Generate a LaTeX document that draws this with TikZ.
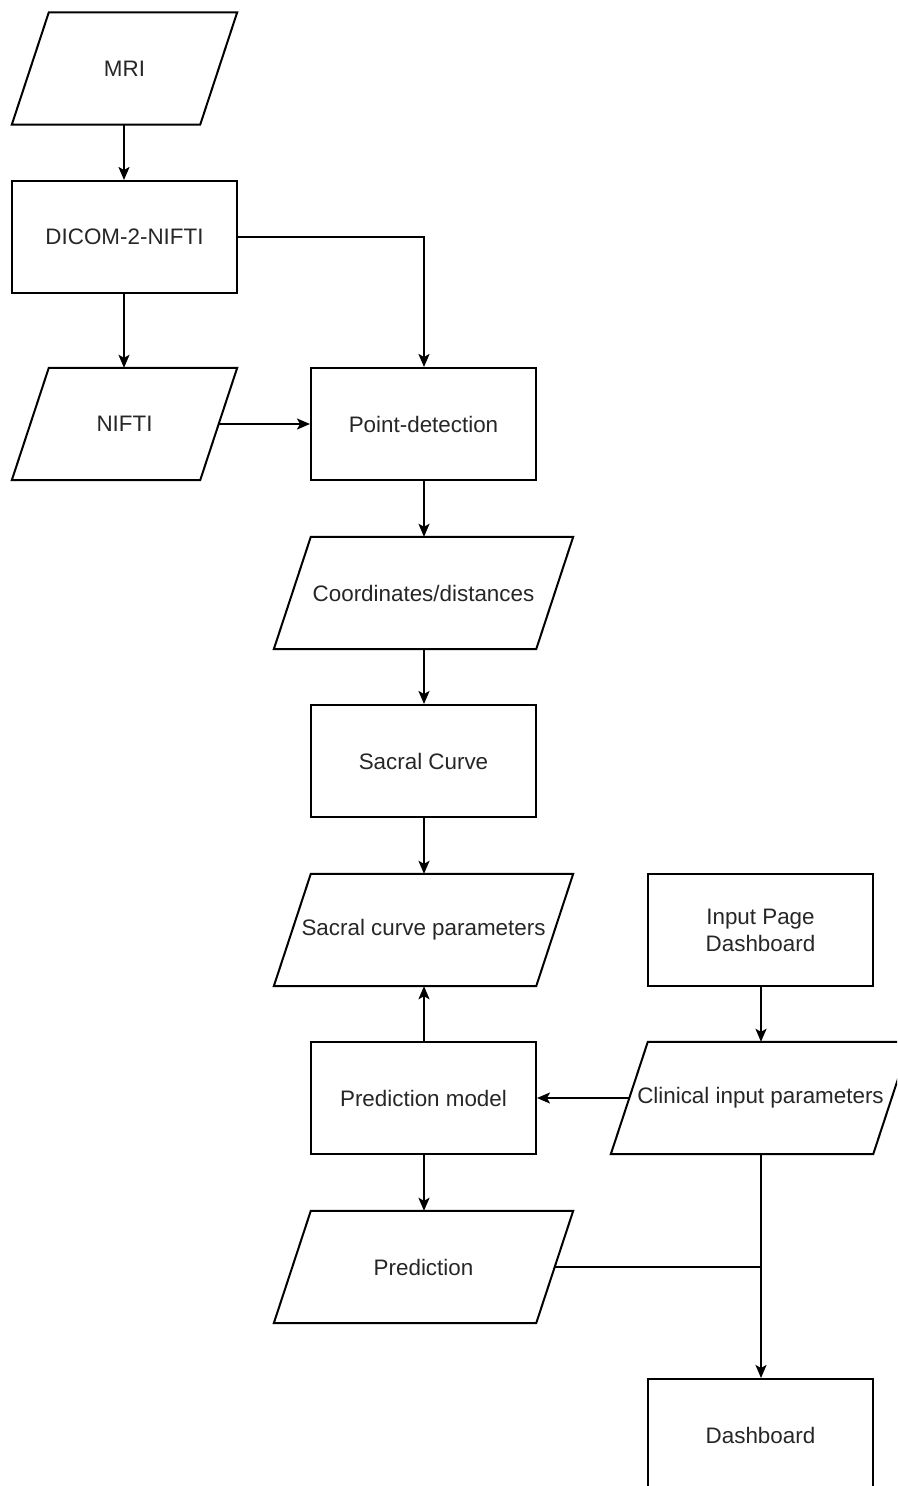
\documentclass[tikz,border=0pt]{standalone}
\usepackage{fontspec}
\setmainfont{Liberation Sans}
\usetikzlibrary{arrows.meta}
\begin{document}
\begin{tikzpicture}[x=1pt,y=-1pt,
  every node/.style={font=\fontsize{22.4}{27}\selectfont, text=black!85},
  procbox/.style={draw, line width=2pt, minimum width=225pt, minimum height=112pt, inner sep=0pt, align=center},
  iobox/.style={minimum width=225pt, minimum height=112pt, inner sep=0pt, align=center},
  iowide/.style={minimum width=299pt, minimum height=112pt, inner sep=0pt, align=center},
  ioline/.style={draw, line width=2pt, line join=miter},
  conn/.style={draw, line width=2pt, -{Stealth[length=13pt,width=11pt,inset=3pt]}},
  plain/.style={draw, line width=2pt}
]
\useasboundingbox (0,0) rectangle (897,1486);
\begin{scope}
\clip (0,0) rectangle (897,1486);
\node[iobox] (mri) at (124.5,68.5) {MRI};
\node[procbox] (dicom) at (124.5,237) {DICOM-2-NIFTI};
\node[iobox] (nifti) at (124.5,424) {NIFTI};
\node[procbox] (point) at (423.5,424) {Point-detection};
\node[iowide] (coord) at (423.5,593) {Coordinates/distances};
\node[procbox] (sacral) at (423.5,761) {Sacral Curve};
\node[iowide] (scp) at (423.5,930) {Sacral curve parameters};
\node[procbox] (input) at (760.5,930) {Input Page\\Dashboard};
\node[procbox] (model) at (423.5,1098) {Prediction model};
\node[iowide] (clin) at (760.5,1098) {Clinical input parameters};
\node[iowide] (pred) at (423.5,1267) {Prediction};
\node[procbox] (dash) at (760.5,1435) {Dashboard};

\foreach \n in {mri,nifti,coord,scp,clin,pred}
  \path[ioline] ([xshift=37pt]\n.north west) -- (\n.north east)
     -- ([xshift=-37pt]\n.south east) -- (\n.south west) -- cycle;

\path[conn] ([xshift=-0.5pt]mri.south) -- ([xshift=-0.5pt]dicom.north);
\path[conn] ([xshift=-0.5pt]dicom.south) -- ([xshift=-0.5pt]nifti.north);
\path[conn] (dicom.east) -| ([xshift=0.5pt]point.north);
\path[conn] ([xshift=-18.5pt]nifti.east) -- (point.west);
\path[conn] ([xshift=0.5pt]point.south) -- ([xshift=0.5pt]coord.north);
\path[conn] ([xshift=0.5pt]coord.south) -- ([xshift=0.5pt]sacral.north);
\path[conn] ([xshift=0.5pt]sacral.south) -- ([xshift=0.5pt]scp.north);
\path[conn] ([xshift=0.5pt]model.north) -- ([xshift=0.5pt]scp.south);
\path[conn] ([xshift=0.5pt]input.south) -- ([xshift=0.5pt]clin.north);
\path[conn] ([xshift=18.5pt]clin.west) -- (model.east);
\path[conn] ([xshift=0.5pt]model.south) -- ([xshift=0.5pt]pred.north);
\coordinate (junc) at ([xshift=0.5pt]clin.south |- pred.east);
\path[plain] ([xshift=-18.5pt]pred.east) -- (junc);
\path[conn] ([xshift=0.5pt]clin.south) -- ([xshift=0.5pt]dash.north);
\end{scope}
\end{tikzpicture}
\end{document}
